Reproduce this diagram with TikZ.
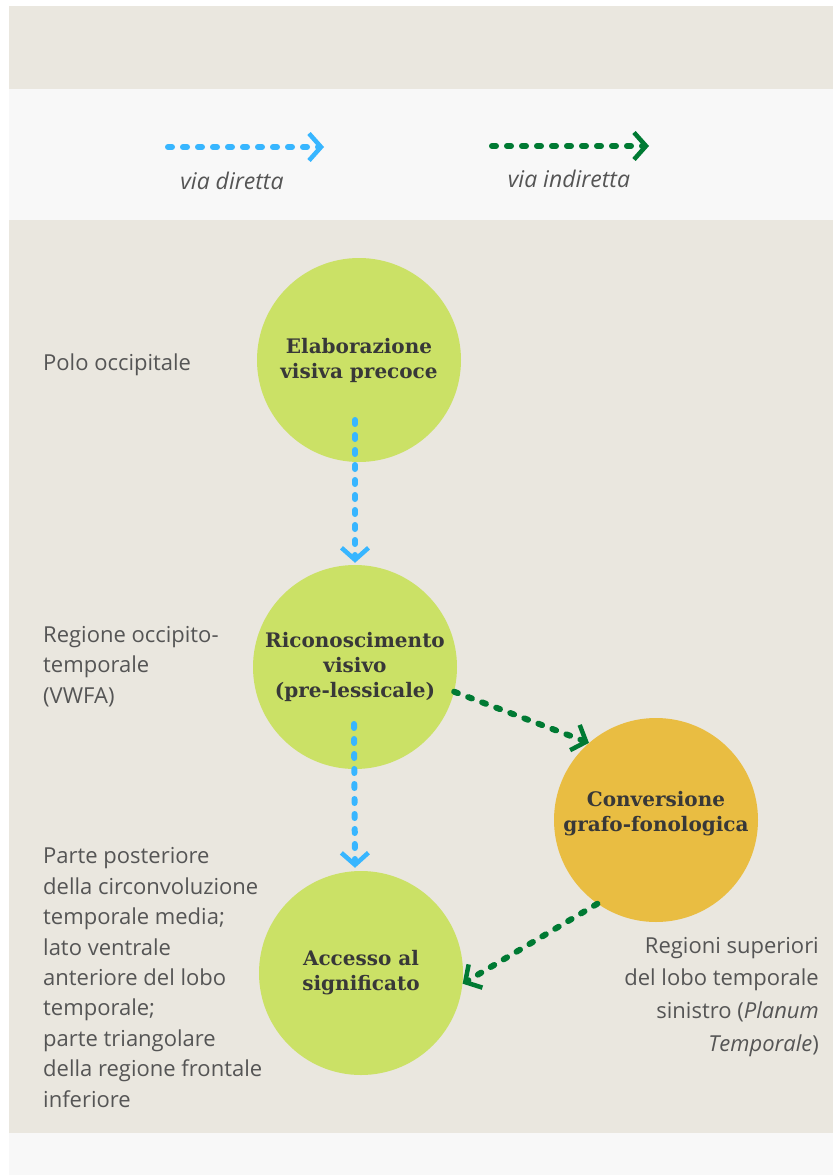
\documentclass[tikz,border=0pt]{standalone}
\usepackage{fontspec}
\setmainfont{Open Sans}
\newfontfamily\stagefont{DejaVu Serif}
\usetikzlibrary{arrows.meta,calc}
\definecolor{beige}{HTML}{EAE7DF}
\definecolor{lightbg}{HTML}{F8F8F8}
\definecolor{leaf}{HTML}{CBE166}
\definecolor{amber}{HTML}{E9BD42}
\definecolor{skyb}{HTML}{38B6FF}
\definecolor{darkg}{HTML}{007A33}
\definecolor{txt}{HTML}{383838}
\definecolor{lbl}{HTML}{555555}
\begin{document}
\begin{tikzpicture}[x=1pt,y=-1pt,
  stage/.style={circle, minimum size=204pt, inner sep=0pt, align=center, text=txt,
    font=\stagefont\bfseries\fontsize{20}{25}\selectfont},
  region/.style={text=lbl, inner sep=0pt, align=left, font=\fontsize{22}{30.4}\selectfont},
  regionr/.style={text=lbl, inner sep=0pt, align=right, font=\fontsize{22}{32.6}\selectfont},
  legendlbl/.style={text=lbl, inner sep=0pt, font=\itshape\fontsize{23}{27}\selectfont},
  flow/.style={line width=6pt, line cap=round, dash pattern=on 4pt off 11pt,
    -{Straight Barb[length=12pt,width=27pt,line width=4.5pt]}}
]
% background bands
\fill[white] (0,0) rectangle (833,1175);
\fill[lightbg] (9,6) rectangle (833,1175);
\fill[beige] (9,6) rectangle (833,89);
\fill[beige] (9,220) rectangle (833,1133);

% legend
\coordinate (l1a) at (168,147);
\coordinate (l1b) at (324,147);
\coordinate (l2a) at (492,146);
\coordinate (l2b) at (649,146);
\draw[flow, skyb] (l1a) -- (l1b);
\draw[flow, darkg] (l2a) -- (l2b);
\node[legendlbl, anchor=base] (lg1) at (232,189) {via diretta};
\node[legendlbl, anchor=base] (lg2) at (569,187) {via indiretta};

% stages
\node[stage, fill=leaf] (c1) at (359,360) {Elaborazione\\visiva precoce};
\node[stage, fill=leaf] (c2) at (355,667) {Riconoscimento\\visivo\\(pre-lessicale)};
\node[stage, fill=amber] (c3) at (656,820) {};
\node[text=txt, font=\stagefont\bfseries\fontsize{20}{25}\selectfont, align=center, inner sep=0pt] (c3t) at ($(c3.center)+(0,-6)$) {Conversione\\grafo-fonologica};
\node[stage, fill=leaf] (c4) at (361,973) {Accesso al\\significato};

% connectors
\coordinate (b1s) at ($(c1.center)+(-4,60)$);
\coordinate (b1e) at ($(c2.north)+(0,-2)$);
\draw[flow, skyb] (b1s) -- (b1e);
\coordinate (b2s) at ($(c2.center)+(-1,57)$);
\coordinate (b2e) at ($(c4.north)+(-6,-3)$);
\draw[flow, skyb] (b2s) -- (b2e);
\draw[flow, darkg] (c2.-14) -- (c3.131);
\draw[flow, darkg] (c3.235) -- (c4.-6);

% region labels (base anchor = last line baseline)
\node[region, anchor=base west] (r1) at (43,370) {Polo occipitale};
\node[region, anchor=base west] (r2) at (43,703) {Regione occipito-\\temporale\\(VWFA)};
\node[region, anchor=base west] (r3) at (43,1107) {Parte posteriore\\della circonvoluzione\\temporale media;\\lato ventrale\\anteriore del lobo\\temporale;\\parte triangolare\\della regione frontale\\inferiore};
\node[regionr, anchor=base east] (r4) at (819,1051) {Regioni superiori\\del lobo temporale\\sinistro (\textit{Planum}\\\textit{Temporale})};
\end{tikzpicture}
\end{document}
